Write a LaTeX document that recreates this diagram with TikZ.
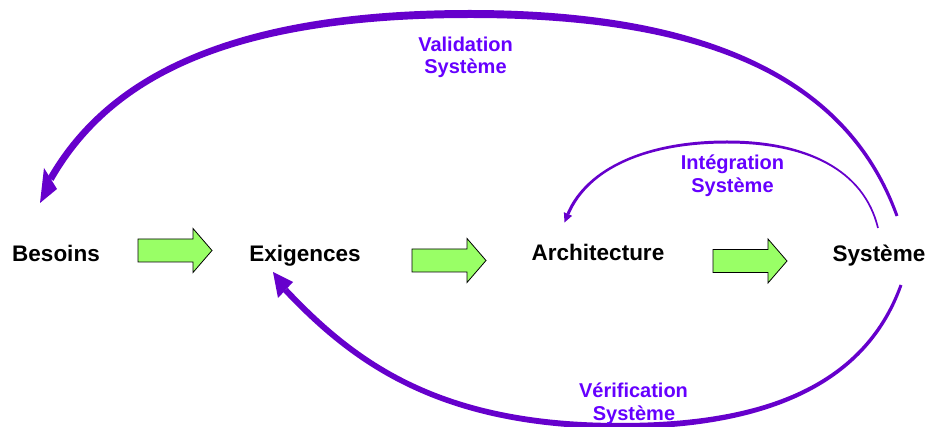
\documentclass[tikz,border=0pt]{standalone}
\usepackage{fontspec}
\setmainfont{Liberation Sans}
\definecolor{arcpurple}{HTML}{6600CC}
\definecolor{txtpurple}{HTML}{6600FF}
\definecolor{arrowgreen}{HTML}{99FF66}
\tikzset{
  stage/.style={font=\fontsize{22.5}{26}\selectfont\bfseries, inner sep=0pt, anchor=base},
  looplabel/.style={font=\fontsize{20}{23}\selectfont\bfseries, text=txtpurple, inner sep=0pt, anchor=base},
  loopband/.style={fill=arcpurple, draw=none},
  fatarrow/.style={fill=arrowgreen, draw=black, line width=0.8pt, line join=miter},
}
\newcommand\flowarrow[2]{%
  \draw[fatarrow] (#1,#2-11.5) -- ++(55,0) -- ++(0,-10.5) -- ++(19,22) -- ++(-19,22) -- ++(0,-10.5) -- ++(-55,0) -- cycle;}
\begin{document}
\begin{tikzpicture}[x=1pt,y=-1pt]
\fill[white] (0,0) rectangle (927,427);
\useasboundingbox (0,0) rectangle (927,427);

% stages
\node[stage] (besoins) at (56,262) {Besoins};
\node[stage] (exig) at (305,262) {Exigences};
\node[stage] (archi) at (598,261) {Architecture};
\node[stage] (syst) at (879,262) {Système};

% green block arrows
\flowarrow{138}{250.5}
\flowarrow{412}{260.5}
\flowarrow{713}{261}

% Validation loop
\coordinate (valStart) at (897,216);
\coordinate (valTip) at (40,203);
\fill[loopband] (898.4,215.5) .. controls (852.2,85.2) and (720,10.2) .. (470,10)
  .. controls (220,10) and (102.5,81.3) .. (47.5,177.3) -- (53.5,180.8)
  .. controls (108.5,84.8) and (220,18) .. (470,18)
  .. controls (720,17.8) and (847.9,86.8) .. (895.6,216.5) -- cycle;
\fill[loopband] (44,168) -- (57,189) -- (valTip) -- cycle;

% Vérification loop
\coordinate (verTip) at (273,272);
\fill[loopband] (902.4,285.5) .. controls (866.1,388.8) and (760,429) .. (620,429)
  .. controls (440,429) and (352.3,365.1) .. (283.3,292.1) -- (287.7,287.9)
  .. controls (356.7,360.9) and (440,423) .. (620,423)
  .. controls (760,423) and (861.9,387.2) .. (899.6,284.5) -- cycle;
\fill[loopband] (verTip) -- (293,282) -- (278,298) -- cycle;

% Intégration loop
\coordinate (intTip) at (564.5,222.5);
\fill[loopband] (878.8,227.8) .. controls (865,169.8) and (807,140.5) .. (727,140.5)
  .. controls (647,140.5) and (586.1,167.4) .. (566.6,213.4) -- (569.4,214.6)
  .. controls (588.9,168.6) and (647,143.5) .. (727,143.5)
  .. controls (807,143.5) and (863,170.2) .. (877.2,228.2) -- cycle;
\fill[loopband] (intTip) -- (572.1,215.8) -- (563.9,212.2) -- cycle;

% loop labels
\node[looplabel] (valA) at (465.5,51.5) {Validation};
\node[looplabel] (valB) at (465.5,73.5) {Système};
\node[looplabel] (intA) at (732.5,169.3) {Intégration};
\node[looplabel] (intB) at (732.5,192.5) {Système};
\node[looplabel] (verA) at (633.5,397.7) {Vérification};
\node[looplabel] (verB) at (634,420.7) {Système};
\end{tikzpicture}
\end{document}
